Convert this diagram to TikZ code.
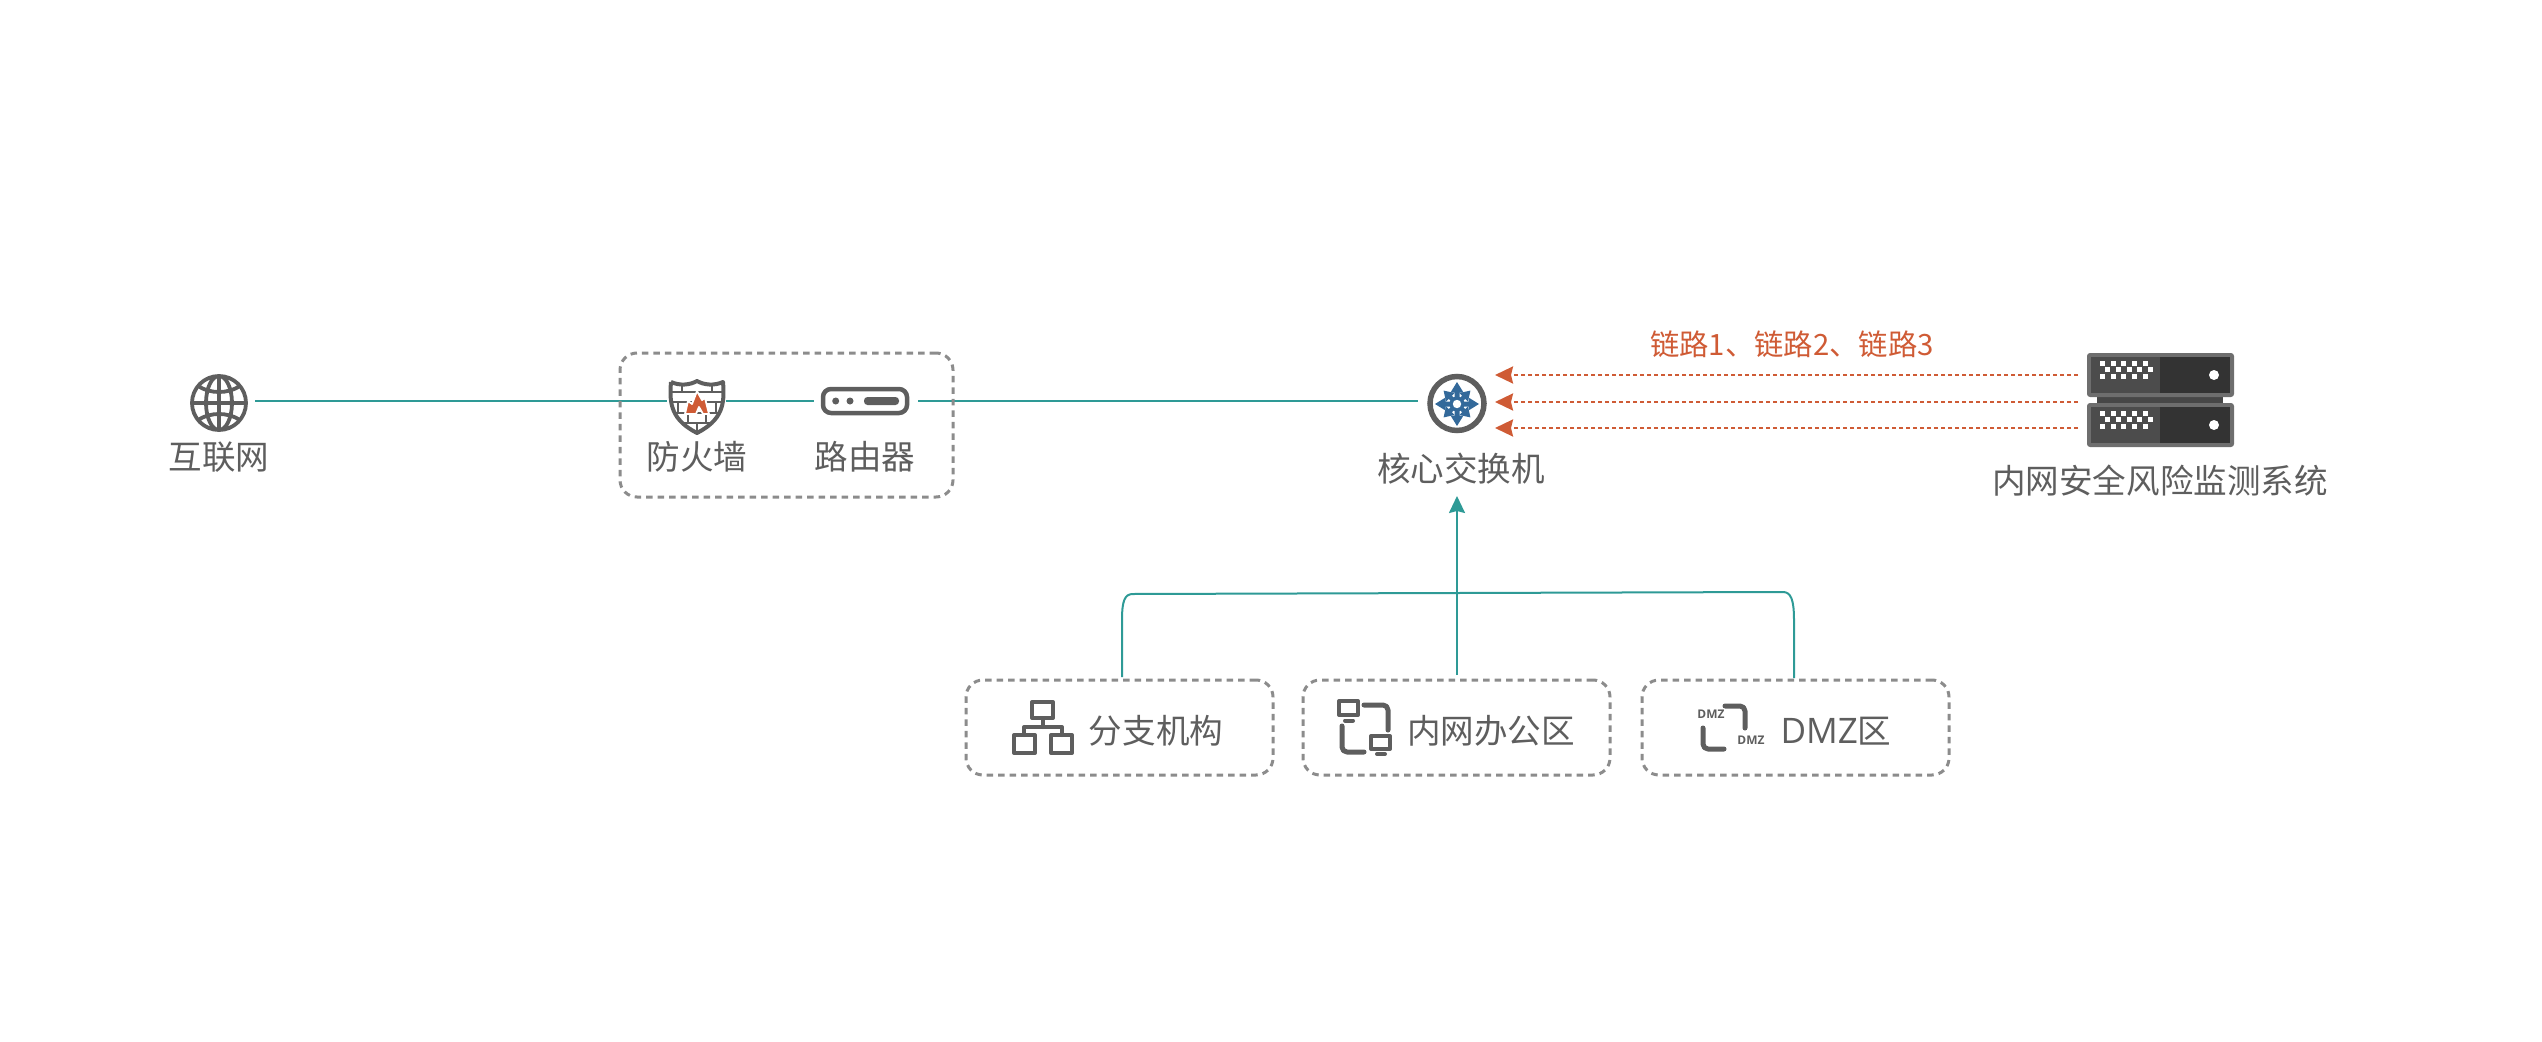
\documentclass[tikz,border=0pt]{standalone}
\usepackage{fontspec}
\setmainfont{Noto Sans CJK SC}
\newfontfamily\latinfont{Open Sans}
\usetikzlibrary{arrows.meta}
\definecolor{linkteal}{HTML}{2E9A96}
\definecolor{riskred}{HTML}{CF5B35}
\definecolor{icongray}{HTML}{5E5E5E}
\definecolor{boxgray}{HTML}{8C8C8C}
\definecolor{coreblue}{HTML}{33699A}
\tikzset{
  lbl/.style={inner sep=0,text=icongray,font=\fontsize{9.55}{11}\selectfont},
  anchorbox/.style={inner sep=0,outer sep=0,minimum height=.2cm},
  dashbox/.style={draw=boxgray,line width=.03cm,rounded corners=.17cm,
    dash pattern=on .065cm off .05cm,inner sep=0,outer sep=0},
  uplink/.style={draw=linkteal,line width=.025cm},
  feedline/.style={draw=linkteal,line width=.02cm},
  riskline/.style={draw=riskred,line width=.025cm,dash pattern=on .04cm off .03cm},
  iconline/.style={draw=icongray,line width=.04cm,line cap=round,line join=round},
  rack/.style={fill=black!57,rounded corners=.03cm}
}
\begin{document}
\begin{tikzpicture}[y=-1cm]
\useasboundingbox (0,0) rectangle (25.42,10.42);
% anchors of the upper link
\node[anchorbox,minimum width=.72cm] (inet) at (2.19,4.01) {};
\node[anchorbox,minimum width=.59cm] (firewall) at (6.965,4.01) {};
\node[anchorbox,minimum width=1.04cm] (router) at (8.66,4.01) {};
\node[anchorbox,minimum width=.78cm] (core) at (14.57,4.01) {};
\draw[uplink] (inet)--(firewall);
\draw[uplink] (firewall)--(router);
\draw[uplink] (router)--(core);
\node[dashbox,minimum width=3.33cm,minimum height=1.44cm] (edgebox) at (7.865,4.25) {};
% globe
\draw[iconline,line width=.038cm]
  (2.19,4.03) circle (.27)
  (2.19,4.03) ellipse (.13 and .27)
  (2.19,3.76)--(2.19,4.30) (1.92,4.03)--(2.46,4.03)
  (1.98,3.86) .. controls (2.10,3.94) and (2.28,3.94) .. (2.40,3.86)
  (1.98,4.20) .. controls (2.10,4.12) and (2.28,4.12) .. (2.40,4.20);
\node[lbl] (inettxt) at (2.19,4.57) {互联网};
% shield
\begin{scope}
\clip (6.71,3.82) .. controls (6.80,3.86) and (6.90,3.85) .. (6.97,3.81)
  .. controls (7.04,3.85) and (7.14,3.86) .. (7.23,3.82)
  .. controls (7.25,4.05) and (7.22,4.20) .. (6.97,4.33)
  .. controls (6.72,4.20) and (6.69,4.05) .. (6.71,3.82);
\draw[icongray,line width=.028cm]
  (6.6,3.92)--(7.3,3.92) (6.6,4.02)--(7.3,4.02) (6.6,4.13)--(7.3,4.13) (6.6,4.23)--(7.3,4.23)
  (6.82,3.82)--(6.82,3.92) (7.12,3.82)--(7.12,3.92) (6.78,4.02)--(6.78,4.13) (7.16,4.02)--(7.16,4.13)
  (6.97,3.92)--(6.97,4.02) (6.88,4.13)--(6.88,4.23) (7.06,4.13)--(7.06,4.23) (6.97,4.23)--(6.97,4.33);
\end{scope}
\draw[icongray,line width=.04cm,line join=round]
  (6.71,3.82) .. controls (6.80,3.86) and (6.90,3.85) .. (6.97,3.81)
  .. controls (7.04,3.85) and (7.14,3.86) .. (7.23,3.82)
  .. controls (7.25,4.05) and (7.22,4.20) .. (6.97,4.33)
  .. controls (6.72,4.20) and (6.69,4.05) .. (6.71,3.82);
\filldraw[fill=riskred,draw=white,line width=.018cm,line join=round]
  (6.85,4.14)--(6.88,4.01)--(6.92,4.04)--(6.97,3.91)--(7.02,4.00)--(7.05,3.98)--(7.09,4.14)
  --(7.03,4.14)--(6.99,4.07)--(6.96,4.14)--cycle;
\node[lbl] (firewalltxt) at (6.97,4.57) {防火墙};
% router
\draw[icongray,line width=.045cm,rounded corners=.08cm] (8.23,3.89) rectangle (9.07,4.13);
\fill[icongray] (8.357,4.01) circle (.035) (8.50,4.01) circle (.035);
\fill[icongray,rounded corners=.035cm] (8.64,3.97) rectangle (8.99,4.05);
\node[lbl] (routertxt) at (8.65,4.57) {路由器};
% core switch
\draw[icongray,line width=.055cm] (14.57,4.035) circle (.27);
\fill[coreblue] (14.57,4.04) circle (.075);
\foreach \a in {0,90,180,270}
  \fill[coreblue,rotate around={\a:(14.57,4.04)}]
    (14.57,3.82)--(14.635,3.925)--(14.595,3.925)--(14.595,4.04)--(14.545,4.04)--(14.545,3.925)--(14.505,3.925)--cycle;
\foreach \a in {45,135,225,315}
  \fill[coreblue,rotate around={\a:(14.57,4.04)}]
    (14.57,3.85)--(14.63,3.945)--(14.592,3.945)--(14.592,4.04)--(14.548,4.04)--(14.548,3.945)--(14.51,3.945)--cycle;
\fill[white] (14.57,4.04) circle (.042);
\node[lbl] (coretxt) at (14.61,4.69) {核心交换机};
% server
\node[anchorbox,minimum width=1.47cm,minimum height=.94cm] (server) at (21.605,4.00) {};
\fill[black!72] (20.97,3.95) rectangle (22.23,4.05);
\foreach \t in {3.53,4.03} {
  \fill[rack] (20.87,\t) rectangle (22.34,\t+.44);
  \fill[black!70] (20.91,\t+.04) rectangle (21.60,\t+.40);
  \fill[black!80] (21.60,\t+.04) rectangle (22.30,\t+.40);
  \foreach \x in {0,1,2,3,4} {
    \fill[white] (21.0+\x*.1067,\t+.075) rectangle ++(.05,.05);
    \fill[white] (21.053+\x*.1067,\t+.14) rectangle ++(.05,.05);
    \fill[white] (21.0+\x*.1067,\t+.21) rectangle ++(.05,.05);
  }
  \fill[white] (22.14,\t+.22) circle (.05);
}
\node[lbl] (servertxt) at (21.60,4.81) {内网安全风险监测系统};
% risk links
\foreach \i/\y in {1/3.75,2/4.02,3/4.28} {
  \coordinate (corein\i) at (14.95,\y);
  \coordinate (serverout\i) at (20.78,\y);
  \draw[riskline,-{Stealth[length=.18cm,width=.17cm,inset=.02cm]}] (serverout\i)--(corein\i);
}
\node[lbl,text=riskred,font=\fontsize{8.35}{10}\selectfont] (linktxt) at (17.92,3.44) {链路1、链路2、链路3};
% lower boxes
\node[dashbox,minimum width=3.07cm,minimum height=.95cm] (branch) at (11.195,7.275) {};
\node[dashbox,minimum width=3.07cm,minimum height=.95cm] (office) at (14.565,7.275) {};
\node[dashbox,minimum width=3.07cm,minimum height=.95cm] (dmz) at (17.955,7.275) {};
\coordinate (branchtop) at (11.22,6.77);
\coordinate (officetop) at (14.57,6.75);
\coordinate (coretip) at (14.57,4.96);
\coordinate (dmztop) at (17.94,6.78);
\draw[feedline,-{Stealth[length=.17cm,width=.16cm,inset=.02cm]}] (officetop)--(coretip);
\draw[feedline] (branchtop)--(11.22,6.20) .. controls (11.22,6.00) and (11.25,5.94) .. (11.33,5.94)
  --(17.83,5.92) .. controls (17.91,5.92) and (17.94,6.00) .. (17.94,6.20)--(dmztop);
% branch icon
\draw[iconline] (10.32,7.02) rectangle (10.53,7.18);
\draw[iconline] (10.14,7.35) rectangle (10.35,7.53);
\draw[iconline] (10.51,7.35) rectangle (10.72,7.53);
\draw[iconline] (10.43,7.18)--(10.43,7.27) (10.24,7.35)--(10.24,7.27)--(10.62,7.27)--(10.62,7.35);
\node[lbl] (branchtxt) at (11.56,7.31) {分支机构};
% office icon
\draw[iconline] (13.39,7.01) rectangle (13.58,7.15);
\draw[iconline] (13.45,7.205)--(13.53,7.205);
\draw[iconline,line width=.05cm,rounded corners=.05cm] (13.64,7.05)--(13.88,7.05)--(13.88,7.30);
\draw[iconline,line width=.05cm,rounded corners=.05cm] (13.42,7.26)--(13.42,7.52)--(13.64,7.52);
\draw[iconline] (13.71,7.36) rectangle (13.90,7.49);
\draw[iconline] (13.77,7.54)--(13.85,7.54);
\node[lbl] (officetxt) at (14.91,7.31) {内网办公区};
% dmz icon
\draw[iconline,line width=.05cm,rounded corners=.05cm] (17.25,7.06)--(17.45,7.06)--(17.45,7.28);
\draw[iconline,line width=.05cm,rounded corners=.05cm] (17.03,7.28)--(17.03,7.49)--(17.24,7.49);
\node[lbl,inner sep=0,font=\latinfont\fontsize{3.4}{4}\bfseries\selectfont] (dmztag) at (17.11,7.14) {DMZ};
\node[lbl,inner sep=0,font=\latinfont\fontsize{3.4}{4}\bfseries\selectfont] (dmztagb) at (17.51,7.40) {DMZ};
\node[lbl] (dmztxt) at (18.36,7.31) {{\latinfont\fontsize{10}{11}\selectfont DMZ}区};
\end{tikzpicture}
\end{document}
